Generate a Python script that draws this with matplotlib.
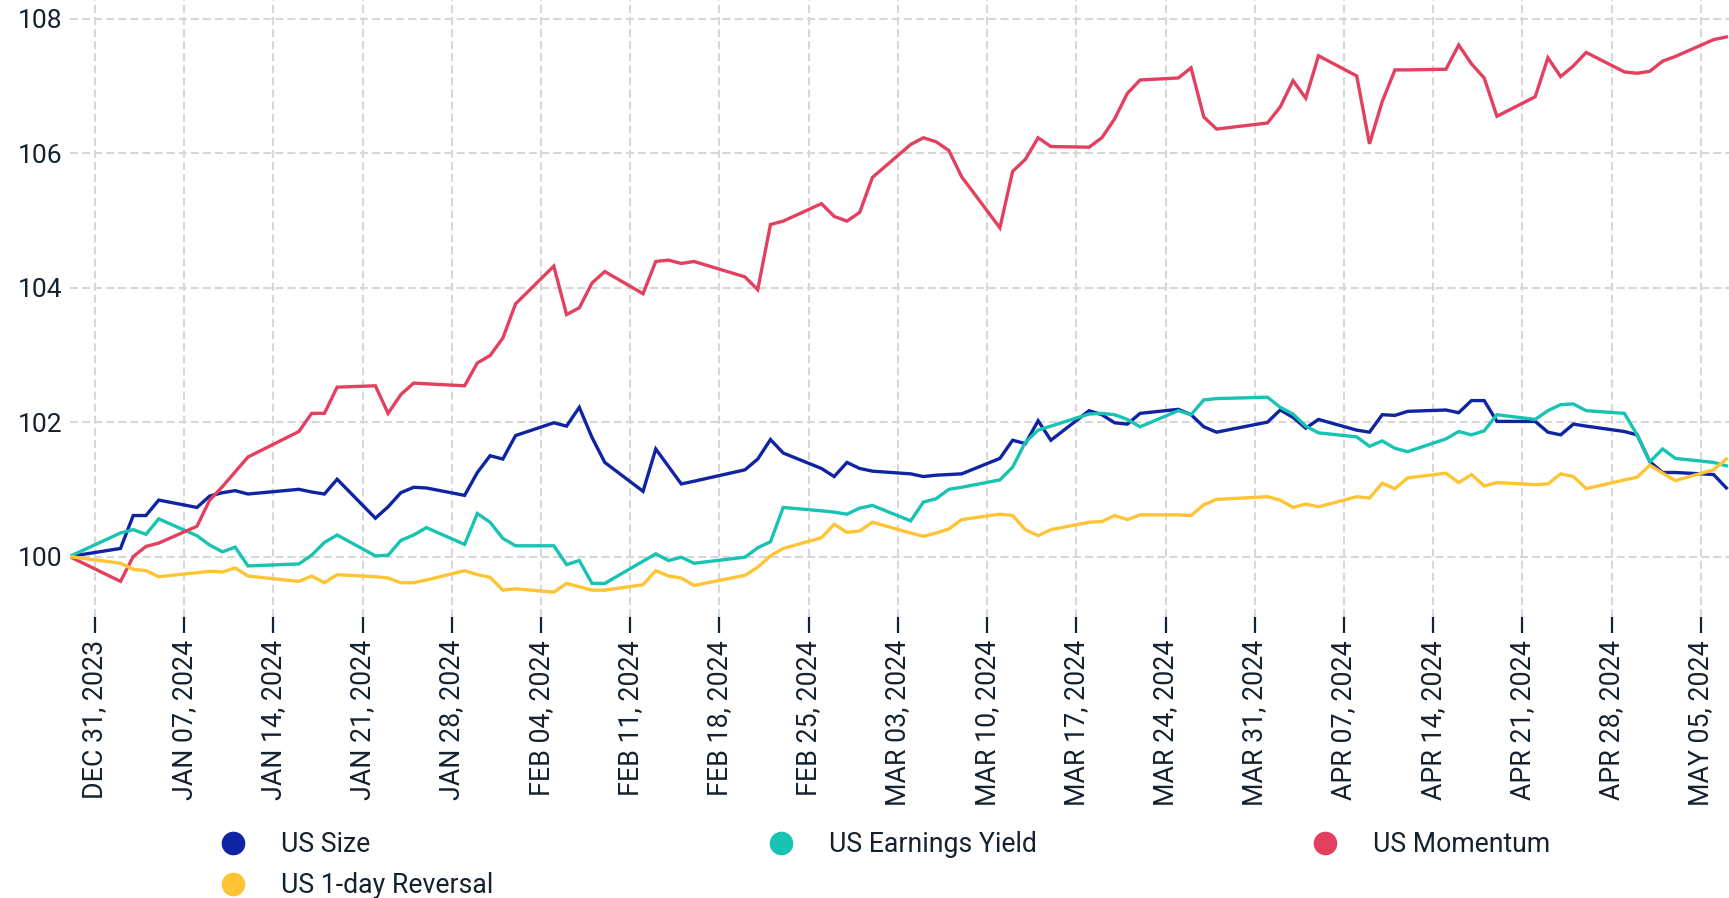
import pandas as pd
import matplotlib
matplotlib.use('Agg')
import matplotlib.pyplot as plt
from matplotlib.lines import Line2D

plt.rcParams['font.family'] = ['Roboto', 'DejaVu Sans']

# trading days shown in the chart
start_day = '2023-12-29'
end_day = '2024-05-07'
holidays = ['2024-01-01', '2024-01-15', '2024-02-19', '2024-03-29']

us_size = [100.00,
           100.12, 100.61, 100.61, 100.84,
           100.73, 100.90, 100.95, 100.98, 100.93,
           101.00, 100.96, 100.93, 101.15,
           100.57, 100.74, 100.95, 101.03, 101.02,
           100.91, 101.25, 101.50, 101.45, 101.80,
           101.99, 101.94, 102.22, 101.77, 101.40,
           100.97, 101.60, 101.34, 101.08, 101.12,
           101.29, 101.45, 101.74, 101.54,
           101.31, 101.19, 101.40, 101.31, 101.27,
           101.23, 101.19, 101.21, 101.22, 101.23,
           101.46, 101.73, 101.68, 102.02, 101.73,
           102.17, 102.11, 101.99, 101.97, 102.13,
           102.19, 102.11, 101.93, 101.85,
           102.00, 102.18, 102.07, 101.91, 102.04,
           101.88, 101.85, 102.11, 102.10, 102.16,
           102.18, 102.14, 102.32, 102.32, 102.01,
           102.01, 101.85, 101.81, 101.97, 101.94,
           101.86, 101.81, 101.41, 101.25, 101.25,
           101.22, 101.02]

us_earnings_yield = [100.00,
                     100.35, 100.40, 100.33, 100.56,
                     100.31, 100.17, 100.07, 100.14, 99.86,
                     99.89, 100.02, 100.21, 100.32,
                     100.01, 100.02, 100.24, 100.32, 100.43,
                     100.18, 100.64, 100.51, 100.27, 100.16,
                     100.16, 99.88, 99.94, 99.60, 99.60,
                     99.93, 100.04, 99.94, 99.99, 99.90,
                     99.99, 100.13, 100.22, 100.73,
                     100.68, 100.66, 100.63, 100.72, 100.76,
                     100.53, 100.81, 100.86, 101.00, 101.03,
                     101.14, 101.33, 101.70, 101.88, 101.94,
                     102.12, 102.13, 102.11, 102.04, 101.93,
                     102.17, 102.11, 102.33, 102.35,
                     102.37, 102.22, 102.12, 101.94, 101.84,
                     101.78, 101.64, 101.72, 101.61, 101.56,
                     101.75, 101.86, 101.81, 101.87, 102.11,
                     102.04, 102.17, 102.26, 102.27, 102.17,
                     102.13, 101.81, 101.41, 101.60, 101.46,
                     101.40, 101.35]

us_momentum = [100.00,
               99.63, 100.00, 100.15, 100.20,
               100.45, 100.84, 101.04, 101.26, 101.48,
               101.86, 102.13, 102.13, 102.52,
               102.54, 102.13, 102.41, 102.58, 102.57,
               102.54, 102.88, 102.99, 103.25, 103.76,
               104.32, 103.60, 103.70, 104.07, 104.24,
               103.91, 104.39, 104.41, 104.36, 104.39,
               104.16, 103.97, 104.94, 104.99,
               105.25, 105.06, 104.99, 105.12, 105.64,
               106.13, 106.23, 106.17, 106.04, 105.65,
               104.89, 105.73, 105.91, 106.23, 106.10,
               106.09, 106.23, 106.51, 106.89, 107.09,
               107.12, 107.27, 106.54, 106.36,
               106.45, 106.69, 107.08, 106.82, 107.45,
               107.15, 106.14, 106.77, 107.24, 107.24,
               107.25, 107.61, 107.33, 107.12, 106.55,
               106.84, 107.42, 107.14, 107.30, 107.50,
               107.21, 107.19, 107.22, 107.37, 107.44,
               107.69, 107.73]

us_reversal = [100.00,
               99.90, 99.81, 99.79, 99.70,
               99.76, 99.78, 99.77, 99.83, 99.71,
               99.63, 99.71, 99.61, 99.73,
               99.70, 99.68, 99.61, 99.61, 99.65,
               99.79, 99.73, 99.69, 99.50, 99.52,
               99.47, 99.60, 99.55, 99.50, 99.50,
               99.58, 99.79, 99.71, 99.68, 99.57,
               99.72, 99.84, 100.01, 100.12,
               100.28, 100.48, 100.36, 100.38, 100.51,
               100.35, 100.30, 100.35, 100.41, 100.55,
               100.63, 100.61, 100.40, 100.31, 100.40,
               100.51, 100.52, 100.61, 100.55, 100.62,
               100.62, 100.61, 100.77, 100.85,
               100.89, 100.84, 100.73, 100.78, 100.74,
               100.89, 100.87, 101.09, 101.01, 101.17,
               101.24, 101.10, 101.22, 101.05, 101.10,
               101.07, 101.08, 101.23, 101.19, 101.01,
               101.14, 101.18, 101.36, 101.24, 101.13,
               101.29, 101.45]

series_names = ['US Size', 'US Earnings Yield', 'US Momentum', 'US 1-day Reversal']
series_colors = ['#0f24a3', '#17c3b2', '#e3405f', '#fec433']
y_ticks = [100, 102, 104, 106, 108]

TEXT = '#14222f'


def create_df():
    dates = pd.bdate_range(start_day, end_day).drop(pd.to_datetime(holidays))
    df = pd.DataFrame({'US Size': us_size,
                       'US Earnings Yield': us_earnings_yield,
                       'US Momentum': us_momentum,
                       'US 1-day Reversal': us_reversal}, index=dates)
    return df


def create_graph(df):
    fig = plt.figure(figsize=(17.29, 8.98), dpi=100)
    ax = fig.add_axes([0.0402, 0.3129, 0.9598, 0.6871])

    for name, color in zip(series_names, series_colors):
        ax.plot(df.index, df[name], color=color, lw=2.4, solid_joinstyle='miter')

    ax.set_xlim(pd.Timestamp('2023-12-29'), pd.Timestamp('2024-05-07 05:00'))
    ax.set_ylim(99.10, 108.28)

    week_ticks = pd.date_range('2023-12-31', '2024-05-05', freq='7D')
    ax.set_xticks(week_ticks)
    ax.set_xticklabels([d.strftime('%b %d, %Y').upper() for d in week_ticks],
                       rotation=90, fontsize=19.3, color=TEXT)
    ax.set_yticks(y_ticks)
    ax.set_yticklabels([str(v) for v in y_ticks], fontsize=19, color=TEXT)

    ax.tick_params(axis='x', length=11.5, width=1.6, color=TEXT, pad=5)
    ax.tick_params(axis='y', length=0, pad=5)
    for s in ax.spines.values():
        s.set_visible(False)
    ax.grid(True, color='#d7d7d7', lw=1.5, linestyle=(0, (3.8, 2.0)))
    ax.set_axisbelow(True)

    # legend filled column by column, so order it to read across rows
    order = [0, 3, 1, 2]
    handles = [Line2D([], [], marker='o', linestyle='none', markersize=16,
                      color=series_colors[i]) for i in order]
    labels = [series_names[i] for i in order]
    fig.legend(handles, labels, ncol=3, frameon=False, fontsize=19.2,
               loc='upper left', bbox_to_anchor=(219.7 / 1729, 1 - 831 / 898),
               borderpad=0, borderaxespad=0, handlelength=1.0,
               handletextpad=1.30, columnspacing=10.3, labelspacing=0.53,
               labelcolor=TEXT)

    fig.savefig('out.png', dpi=100)


def main():
    df = create_df()
    create_graph(df)


if __name__ == '__main__':
    main()
